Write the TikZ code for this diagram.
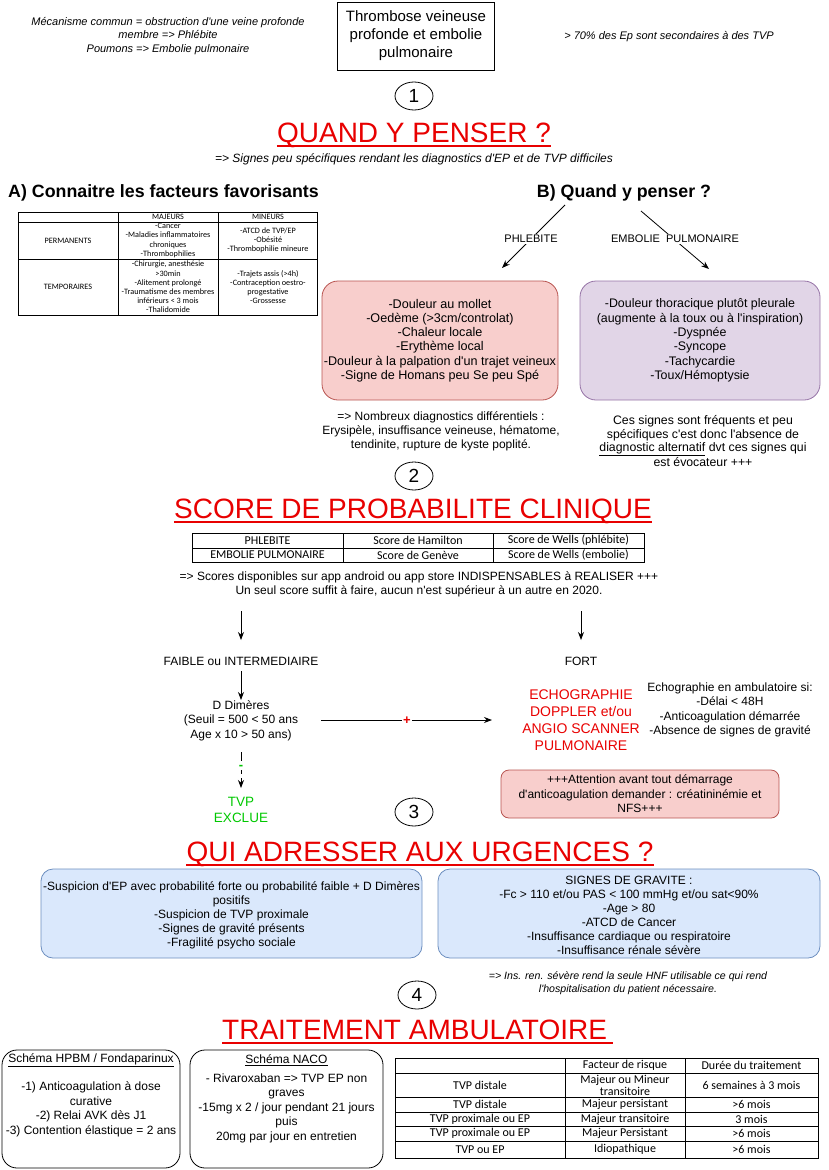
\documentclass[tikz,border=0pt]{standalone}
\usepackage{fontspec}
\setmainfont{Liberation Sans}[Ligatures=TeXOff]
\newfontfamily\tabfont{Carlito}[Ligatures=TeXOff]
\usetikzlibrary{shapes.geometric,arrows.meta}
\definecolor{tred}{RGB}{232,0,0}
\definecolor{tgreen}{RGB}{0,200,0}
\definecolor{pinkf}{HTML}{F8CECC}
\definecolor{pinkd}{HTML}{B85450}
\definecolor{purpf}{HTML}{E1D5E7}
\definecolor{purpd}{HTML}{9673A6}
\definecolor{bluef}{HTML}{DAE8FC}
\definecolor{blued}{HTML}{6C8EBF}
\newcommand{\fsz}[2]{\fontsize{#1}{#2}\selectfont}
\begin{document}
\begin{tikzpicture}[x=1pt,y=-1pt,
  txt/.style={align=center,inner sep=0pt,font=\fsz{12}{14.4}},
  note/.style={align=center,inner sep=0pt,font=\fsz{11}{13.2}\itshape},
  ttl/.style={inner sep=0pt,anchor=base,text=tred,font=\fsz{28}{33}},
  uline/.style={draw=tred,line width=1.8pt},
  num/.style={ellipse,draw,line width=0.8pt,minimum width=38pt,minimum height=28pt,inner sep=0pt,font=\fsz{19}{22}},
  tab/.style={line width=0.6pt},
  cellA/.style={align=center,inner sep=0pt,font=\tabfont\fsz{8.2}{9.2}},
  cellB/.style={align=center,inner sep=0pt,font=\tabfont\fsz{12}{12}},
  arr/.style={-{Stealth[length=8pt,width=6pt]},line width=0.8pt},
  lbl/.style={fill=white,inner sep=1.5pt,font=\fsz{11}{13}},
  rbox/.style={draw,line width=0.8pt,rounded corners=#1},
  head/.style={inner sep=0pt,font=\fsz{17.8}{20}\bfseries}
]
\useasboundingbox (0,0) rectangle (828,1170);

% ---------- top ----------
\node[note] (noteL) at (168,36) {Mécanisme commun = obstruction d'une veine profonde\\membre => Phlébite\\Poumons => Embolie pulmonaire};
\node[draw,line width=0.8pt,minimum width=157pt,minimum height=68pt,align=center,inner sep=0pt,font=\fsz{15}{18}] (title) at (416,36) {Thrombose veineuse\\profonde et embolie\\pulmonaire};
\node[note] (noteR) at (669,37) {> 70\% des Ep sont secondaires à des TVP};

% ---------- section 1 ----------
\node[num] (c1) at (414,96) {1};
\node[ttl] (t1) at (414,142) {QUAND Y PENSER ?};
\draw[uline] ([yshift=-4pt]t1.base west) -- ([yshift=-4pt]t1.base east);
\node[note,font=\fsz{12}{14}\itshape] (sub1) at (414,159) {=> Signes peu spécifiques rendant les diagnostics d'EP et de TVP difficiles};

\node[head,anchor=base west] (hA) at (8,197) {A) Connaitre les facteurs favorisants};
\node[head,anchor=base] (hB) at (624,197) {B) Quand y penser ?};

% table A
\draw[tab] (18,212) rectangle (317,315);
\draw[tab] (118,212) -- (118,315) (218,212) -- (218,315);
\draw[tab] (18,222) -- (317,222) (18,259) -- (317,259);
\node[cellA] (aMaj) at (168,217) {MAJEURS};
\node[cellA] (aMin) at (268,217) {MINEURS};
\node[cellA] (aPer) at (68,240.5) {PERMANENTS};
\node[cellA] (aTem) at (68,287) {TEMPORAIRES};
\node[cellA] (aPerMaj) at (168,240.5) {-Cancer\\-Maladies inflammatoires\\chroniques\\-Thrombophilies};
\node[cellA] (aPerMin) at (268,240.5) {-ATCD de TVP/EP\\-Obésité\\-Thrombophilie mineure};
\node[cellA] (aTemMaj) at (168,287) {-Chirurgie, anesthésie\\>30min\\-Alitement prolongé\\-Traumatisme des membres\\inférieurs < 3 mois\\-Thalidomide};
\node[cellA] (aTemMin) at (268,287) {-Trajets assis (>4h)\\-Contraception oestro-\\progestative\\-Grossesse};

% arrows B
\coordinate (bL1) at (565,205);
\coordinate (bL2) at (502,268);
\coordinate (bR1) at (641,211);
\coordinate (bR2) at (709,269);
\draw[arr] (bL1) -- (bL2);
\draw[arr] (bR1) -- (bR2);
\node[lbl] (lPh) at (531,239) {PHLEBITE};
\node[lbl] (lEp) at (675,239) {EMBOLIE\ \ PULMONAIRE};

\node[rbox=16pt,draw=pinkd,fill=pinkf,minimum width=236pt,minimum height=119pt,txt,font=\fsz{12.6}{14.3}] (pink) at (440,340.5) {-Douleur au mollet\\-Oedème (>3cm/controlat)\\-Chaleur locale\\-Erythème local\\-Douleur à la palpation d'un trajet veineux\\-Signe de Homans peu Se peu Spé};
\node[rbox=16pt,draw=purpd,fill=purpf,minimum width=240pt,minimum height=119pt,txt,font=\fsz{12.4}{14.3}] (purple) at (700,340.5) {-Douleur thoracique plutôt pleurale\\(augmente à la toux ou à l'inspiration)\\-Dyspnée\\-Syncope\\-Tachycardie\\-Toux/Hémoptysie};

\node[txt,font=\fsz{12}{14}] (diff) at (441,431) {=> Nombreux diagnostics différentiels :\\Erysipèle, insuffisance veineuse, hématome,\\tendinite, rupture de kyste poplité.};
\node[txt,font=\fsz{12.3}{13.3}] (pnote) at (703,441) {Ces signes sont fréquents et peu\\spécifiques c'est donc l'absence de\\\underline{diagnostic alternatif} dvt ces signes qui\\est évocateur +++};

% ---------- section 2 ----------
\node[num] (c2) at (414,476) {2};
\node[ttl] (t2) at (413,518) {SCORE DE PROBABILITE CLINIQUE};
\draw[uline] ([yshift=-4pt]t2.base west) -- ([yshift=-4pt]t2.base east);

\draw[tab] (192,533) rectangle (644,562);
\draw[tab] (343,533) -- (343,562) (493,533) -- (493,562) (192,548) -- (644,548);
\node[cellB] (sP) at (267.5,540.5) {PHLEBITE};
\node[cellB] (sE) at (267.5,555) {EMBOLIE PULMONAIRE};
\node[cellB] (sH) at (418,540.5) {Score de Hamilton};
\node[cellB] (sG) at (418,555) {Score de Genève};
\node[cellB] (sW1) at (568.5,540.5) {Score de Wells (phlébite)};
\node[cellB] (sW2) at (568.5,555) {Score de Wells (embolie)};

\node[txt,font=\fsz{12}{14}] (snote) at (419,584) {=> Scores disponibles sur app android ou app store INDISPENSABLES à REALISER +++\\Un seul score suffit à faire, aucun n'est supérieur à un autre en 2020.};

\coordinate (dL1) at (241,611);
\coordinate (dL2) at (241,640);
\coordinate (dR1) at (581,611);
\coordinate (dR2) at (581,640);
\draw[arr] (dL1) -- (dL2);
\draw[arr] (dR1) -- (dR2);
\node[txt] (faible) at (241,661) {FAIBLE ou INTERMEDIAIRE};
\node[txt] (fort) at (581,661) {FORT};
\coordinate (fA) at (241,671);
\coordinate (fB) at (241,700);
\draw[arr] (fA) -- (fB);
\node[txt] (ddim) at (241,720.5) {D Dimères\\(Seuil = 500 < 50 ans\\Age x 10 > 50 ans)};
\node[txt,text=tred,font=\fsz{14}{17}] (echo) at (581,720.5) {ECHOGRAPHIE\\DOPPLER et/ou\\ANGIO SCANNER\\PULMONAIRE};
\coordinate (hA1) at (321,720);
\coordinate (hA2) at (492,720);
\draw[arr] (hA1) -- (hA2);
\node[fill=white,inner sep=1pt,text=tred,font=\fsz{13}{14}\bfseries] (plus) at (407,721) {+};
\node[txt] (ambu) at (730,710) {Echographie en ambulatoire si:\\-Délai < 48H\\-Anticoagulation démarrée\\-Absence de signes de gravité};

\coordinate (gA) at (241,752);
\coordinate (gB) at (241,788);
\draw[arr,dash pattern=on 9pt off 4pt] (gA) -- (gB);
\node[fill=white,inner sep=1pt,text=tgreen,font=\fsz{13}{14}\bfseries] (minus) at (241,767) {-};
\node[txt,text=tgreen,font=\fsz{13.5}{16}] (excl) at (241,810) {TVP\\EXCLUE};

\node[rbox=8pt,draw=pinkd,fill=pinkf,minimum width=278pt,minimum height=48pt,txt] (attn) at (640,794) {+++Attention avant tout démarrage\\d'anticoagulation demander : créatininémie et\\NFS+++};

% ---------- section 3 ----------
\node[num] (c3) at (414,812) {3};
\node[ttl] (t3) at (420,861) {QUI ADRESSER AUX URGENCES ?};
\draw[uline] ([yshift=-4pt]t3.base west) -- ([yshift=-4pt]t3.base east);

\node[rbox=12pt,draw=blued,fill=bluef,minimum width=381pt,minimum height=89pt] (blueL) at (231.5,913.5) {};
\node[txt,font=\fsz{12}{14}] (blueLt) at (231.5,915) {-Suspicion d'EP avec probabilité forte ou probabilité faible + D Dimères\\positifs\\-Suspicion de TVP proximale\\-Signes de gravité présents\\-Fragilité psycho sociale};
\node[rbox=12pt,draw=blued,fill=bluef,minimum width=382pt,minimum height=89pt] (blueR) at (629,913.5) {};
\node[txt,font=\fsz{12}{14}] (blueRt) at (629,915) {SIGNES DE GRAVITE :\\-Fc > 110 et/ou PAS < 100 mmHg et/ou sat<90\%\\-Age > 80\\-ATCD de Cancer\\-Insuffisance cardiaque ou respiratoire\\-Insuffisance rénale sévère};
\node[note,font=\fsz{10.6}{13}\itshape] (hnf) at (628,983.5) {=> Ins. ren. sévère rend la seule HNF utilisable ce qui rend\\l'hospitalisation du patient nécessaire.};

% ---------- section 4 ----------
\node[num] (c4) at (417,995) {4};
\node[ttl,anchor=base west] (t4) at (222,1039) {TRAITEMENT AMBULATOIRE};
\draw[uline] ([yshift=-4pt]t4.base west) -- ([yshift=-4pt,xshift=6pt]t4.base east);

\node[rbox=15pt,minimum width=178pt,minimum height=118pt] (hpbm) at (91,1109) {};
\node[txt] (hpbmt) at (91,1095) {\underline{Schéma HPBM / Fondaparinux}\\[14.4pt]-1) Anticoagulation à dose\\curative\\-2) Relai AVK dès J1\\-3) Contention élastique = 2 ans};
\node[rbox=15pt,minimum width=193pt,minimum height=118pt] (naco) at (286.5,1109) {};
\node[txt] (nacot) at (286.5,1098.5) {\underline{Schéma NACO}\\[5pt]- Rivaroxaban => TVP EP non\\graves\\-15mg x 2 / jour pendant 21 jours\\puis\\20mg par jour en entretien};

\draw[tab] (395,1058) rectangle (818,1158);
\draw[tab] (565,1058) -- (565,1158) (685,1058) -- (685,1158);
\draw[tab] (395,1073) -- (818,1073) (395,1097) -- (818,1097) (395,1112) -- (818,1112) (395,1126) -- (818,1126) (395,1141) -- (818,1141);
\node[cellB] (bF) at (625,1065.5) {Facteur de risque};
\node[cellB] (bD) at (751.5,1065.5) {Durée du traitement};
\node[cellB] (b1a) at (480,1085) {TVP distale};
\node[cellB] (b1b) at (625,1085) {Majeur ou Mineur\\transitoire};
\node[cellB] (b1c) at (751.5,1085) {6 semaines à 3 mois};
\node[cellB] (b2a) at (480,1104.5) {TVP distale};
\node[cellB] (b2b) at (625,1104.5) {Majeur persistant};
\node[cellB] (b2c) at (751.5,1104.5) {>6 mois};
\node[cellB] (b3a) at (480,1119) {TVP proximale ou EP};
\node[cellB] (b3b) at (625,1119) {Majeur transitoire};
\node[cellB] (b3c) at (751.5,1119) {3 mois};
\node[cellB] (b4a) at (480,1133.5) {TVP proximale ou EP};
\node[cellB] (b4b) at (625,1133.5) {Majeur Persistant};
\node[cellB] (b4c) at (751.5,1133.5) {>6 mois};
\node[cellB] (b5a) at (480,1149.5) {TVP ou EP};
\node[cellB] (b5b) at (625,1149.5) {Idiopathique};
\node[cellB] (b5c) at (751.5,1149.5) {>6 mois};
\end{tikzpicture}
\end{document}
